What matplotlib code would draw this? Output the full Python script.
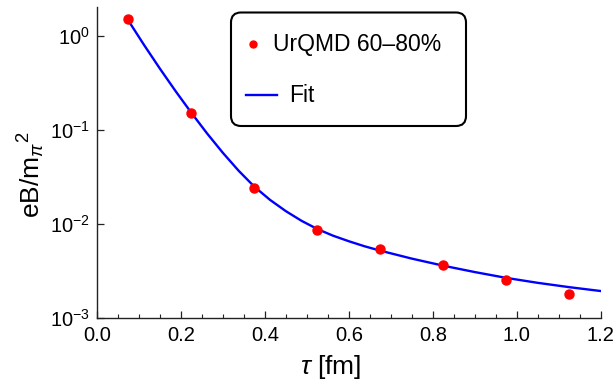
import matplotlib
matplotlib.use("Agg")
import matplotlib.pyplot as plt
from matplotlib.ticker import MultipleLocator, NullLocator, LogLocator, FormatStrFormatter
from matplotlib.patches import FancyBboxPatch
from matplotlib.lines import Line2D
from matplotlib.transforms import IdentityTransform

plt.rcParams['font.family'] = ['Liberation Sans', 'DejaVu Sans']
plt.rcParams['mathtext.fontset'] = 'custom'
plt.rcParams['mathtext.rm'] = 'Liberation Sans'
plt.rcParams['mathtext.it'] = 'Liberation Sans:italic'
plt.rcParams['mathtext.bf'] = 'Liberation Sans:bold'

# UrQMD points
tau = [0.075, 0.225, 0.375, 0.525, 0.675, 0.825, 0.975, 1.125]
eB = [1.52, 0.151, 0.0243, 0.00863, 0.00542, 0.00369, 0.00255, 0.00181]

# fit curve
fit_tau = [0.075, 0.1125, 0.15, 0.1875, 0.225, 0.2625, 0.3, 0.3375, 0.375,
           0.4125, 0.45, 0.4875, 0.525, 0.5625, 0.6, 0.6375, 0.675, 0.75, 0.825,
           0.9, 0.975, 1.05, 1.125, 1.2]
fit_eB = [1.449, 0.796, 0.4477, 0.2576, 0.1517, 0.0915, 0.0570, 0.0368, 0.02489,
          0.0180, 0.01368, 0.01079, 0.00883, 0.0075, 0.00655, 0.00579, 0.0052,
          0.00428, 0.0036, 0.00308, 0.00267, 0.002366, 0.002128, 0.001936]

W, H = 616, 383
fig = plt.figure(figsize=(W / 100, H / 100), dpi=100)
ax = fig.add_axes([97 / W, 1 - 318 / H, 503.7 / W, 311 / H])

ax.plot(tau, eB, 'o', color='#ff0000', markersize=6.5, zorder=3)
ax.plot(fit_tau, fit_eB, '-', color='#0000ff', linewidth=1.7, zorder=2)

ax.set_yscale('log')
ax.set_xlim(0, 1.2)
ax.set_ylim(1e-3, 2.03)
ax.xaxis.set_major_locator(MultipleLocator(0.2))
ax.xaxis.set_minor_locator(MultipleLocator(0.05))
ax.yaxis.set_major_locator(LogLocator(base=10))
ax.yaxis.set_minor_locator(NullLocator())
ax.xaxis.set_major_formatter(FormatStrFormatter('%.1f'))

for s in ['top', 'right']:
    ax.spines[s].set_visible(False)
for s in ['left', 'bottom']:
    ax.spines[s].set_color('#222222')
    ax.spines[s].set_linewidth(1.0)

ax.tick_params(which='both', direction='in', colors='#222222', labelcolor='black', labelsize=14.5)
ax.tick_params(which='major', length=5, width=0.9)
ax.tick_params(which='minor', length=3, width=0.8)
ax.tick_params(axis='x', pad=6)
ax.tick_params(axis='y', pad=5)

# axis labels
fig.text(331 / W, 1 - 367 / H, r'$\it{\tau}$ [fm]', fontsize=19, ha='center', va='center')
fig.text(31 / W, 1 - 175 / H, r'eB/m$_{\it{\pi}}{}^{2}$', fontsize=19,
         rotation=90, ha='center', va='center')

# legend box drawn in pixel units
px = IdentityTransform()
box = FancyBboxPatch((231, H - 126), 235, 113.5, boxstyle='round,pad=0,rounding_size=10',
                     transform=px, facecolor='white', edgecolor='black', linewidth=1.5, zorder=5)
fig.add_artist(box)
fig.add_artist(Line2D([253], [H - 44], marker='o', markersize=5, color='#ff0000',
                      linestyle='none', transform=px, zorder=6))
fig.add_artist(Line2D([246, 277], [H - 95, H - 95], color='#0000ff', linewidth=1.7,
                      transform=px, zorder=6))
fig.text(273 / W, 1 - 51 / H, 'UrQMD 60\u201380%', fontsize=16.5, ha='left', va='baseline', zorder=6)
fig.text(289 / W, 1 - 102 / H, 'Fit', fontsize=16.5, ha='left', va='baseline', zorder=6)

fig.savefig('out.png', dpi=100)
